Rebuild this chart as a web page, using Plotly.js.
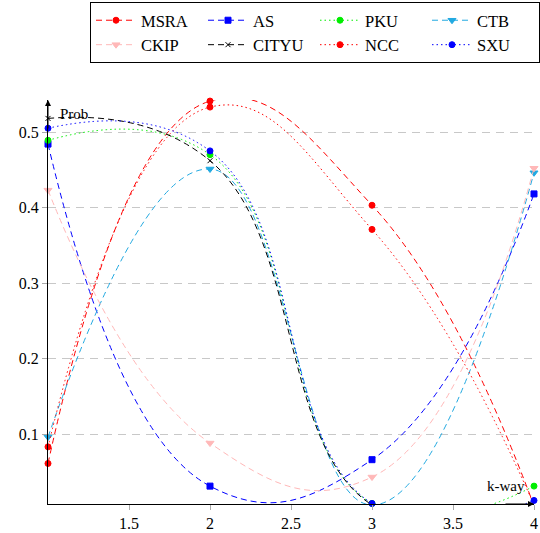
<!DOCTYPE html>
<html>
<head>
<meta charset="utf-8">
<script src="https://cdn.plot.ly/plotly-3.0.1.min.js"></script>
<style>html,body{margin:0;padding:0;background:#fff;}#chart{width:540px;height:533px;}</style>
</head>
<body>
<div id="chart"></div>
<script>
const kway = [1, 2, 3, 4];
const seriesNames = ["MSRA", "AS", "PKU", "CTB", "CKIP", "CITYU", "NCC", "SXU"];
const MSRA  = [0.061, 0.541, 0.403, 0.005];
const AS    = [0.484, 0.031, 0.066, 0.418];
const PKU   = [0.489, 0.470, 0.008, 0.031];
const CTB   = [0.096, 0.451, 0.006, 0.446];
const CKIP  = [0.423, 0.088, 0.043, 0.452];
const CITYU = [0.518, 0.462, 0.006, 0.006];
const NCC   = [0.083, 0.533, 0.371, 0.006];
const SXU   = [0.505, 0.475, 0.008, 0.012];
const yTicks = [0.1, 0.2, 0.3, 0.4, 0.5];
const xTicks = [1.5, 2, 2.5, 3, 3.5, 4];

const values = [MSRA, AS, PKU, CTB, CKIP, CITYU, NCC, SXU];
const styles = [
  {color: "#ff0000", dash: "6px,4px", symbol: "circle", size: 6},
  {color: "#0000ff", dash: "6px,4px", symbol: "square", size: 6},
  {color: "#00ee00", dash: "1.5px,3px", symbol: "circle", size: 6},
  {color: "#21a9e1", dash: "6px,4px", symbol: "triangle-down", size: 7},
  {color: "#ffb8b8", dash: "6px,4px", symbol: "triangle-down", size: 7},
  {color: "#000000", dash: "6px,4px", symbol: "x-thin", size: 5},
  {color: "#ff0000", dash: "1.5px,3px", symbol: "circle", size: 6},
  {color: "#0000ff", dash: "1.5px,3px", symbol: "circle", size: 6}
];

const data = seriesNames.map((n, i) => ({
  x: kway, y: values[i], name: n, type: "scatter", mode: "lines+markers",
  line: {color: styles[i].color, dash: styles[i].dash, width: 1, shape: "spline", smoothing: 1.3},
  marker: {color: styles[i].color, symbol: styles[i].symbol, size: styles[i].size,
           line: {color: styles[i].color, width: 1}},
  cliponaxis: false
}));

const font = "Liberation Serif, Times New Roman, serif";
const layout = {
  width: 540, height: 533,
  margin: {l: 48, r: 6, t: 100, b: 29},
  paper_bgcolor: "#fff", plot_bgcolor: "#fff",
  font: {family: font, size: 15, color: "#000"},
  showlegend: true,
  legend: {
    orientation: "h", xref: "container", yref: "container",
    x: 90 / 540, xanchor: "left", y: 1 - 2 / 533, yanchor: "top",
    bordercolor: "#000", borderwidth: 1, bgcolor: "#fff",
    font: {family: font, size: 16.5, color: "#000"},
    entrywidth: 57, entrywidthmode: "pixels", tracegroupgap: 0, itemwidth: 40
  },
  xaxis: {
    range: [1, 4], tickvals: xTicks, ticktext: xTicks.map(String),
    showgrid: false, zeroline: false, showline: true, linecolor: "#000", linewidth: 1,
    ticks: "outside", ticklen: 5, tickcolor: "#aaa", tickwidth: 1,
    tickfont: {family: font, size: 16}
  },
  yaxis: {
    range: [0.0073, 0.5424], tickvals: yTicks, ticktext: yTicks.map(String),
    showgrid: true, gridcolor: "#c8c8c8", griddash: "8px,6px", gridwidth: 1,
    zeroline: false, showline: true, linecolor: "#000", linewidth: 1,
    ticks: "outside", ticklen: 5, tickcolor: "#aaa", tickwidth: 1,
    tickfont: {family: font, size: 16}
  },
  annotations: [
    {xref: "paper", yref: "paper", x: 0, y: 1.0, ax: 0, ay: 30, text: "", showarrow: true,
     arrowhead: 2, arrowsize: 1.2, arrowwidth: 1, arrowcolor: "#000", standoff: 0},
    {xref: "paper", yref: "paper", x: 1.0, y: 0, ax: -30, ay: 0, text: "", showarrow: true,
     arrowhead: 2, arrowsize: 1.2, arrowwidth: 1, arrowcolor: "#000", standoff: 0},
    {xref: "paper", yref: "paper", x: 0.02, y: 0.965, xanchor: "left", yanchor: "middle",
     text: "Prob", showarrow: false, font: {family: font, size: 15}},
    {xref: "paper", yref: "paper", x: 0.985, y: 0.045, xanchor: "right", yanchor: "middle",
     text: "k-way", showarrow: false, font: {family: font, size: 15}}
  ]
};

Plotly.newPlot("chart", data, layout, {displayModeBar: false, staticPlot: true});
</script>
</body>
</html>
